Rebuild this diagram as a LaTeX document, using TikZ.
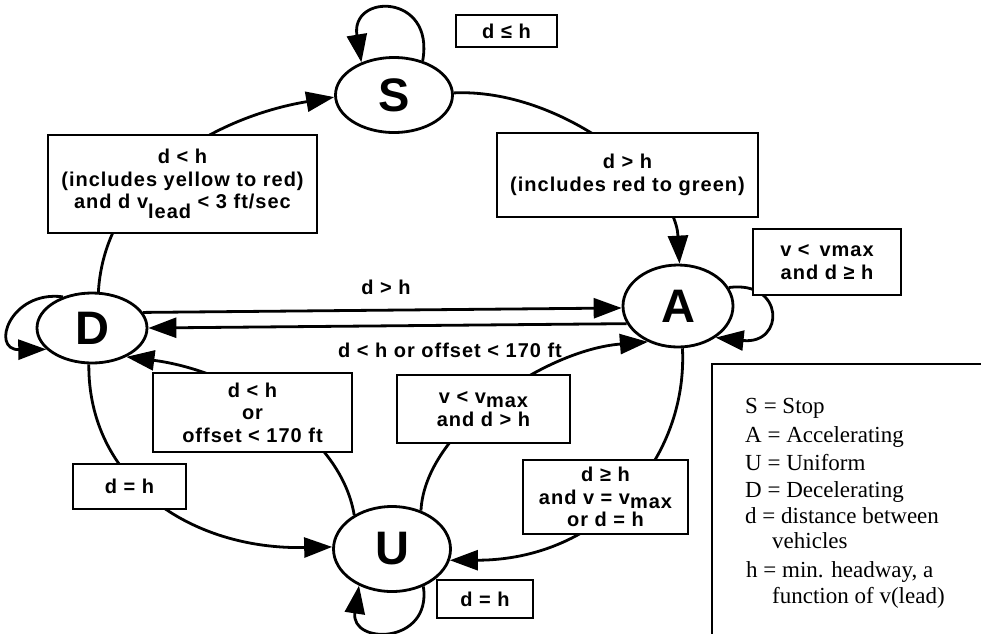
\documentclass[tikz,border=0pt]{standalone}
\usepackage{fontspec}
\setmainfont{Liberation Sans}
\newfontfamily\lblfont[LetterSpace=5]{Liberation Sans}
\newfontfamily\legendfont{Liberation Serif}
\usetikzlibrary{arrows.meta,shapes.geometric}
\begin{document}
\begin{tikzpicture}[x=1pt,y=-1pt,
  state/.style={ellipse, draw, line width=2.8pt, inner sep=0pt,
    font=\fontsize{47}{47}\selectfont\bfseries},
  conn/.style={line width=2.8pt, -{Triangle[length=28pt,width=20pt]}},
  lbl/.style={draw, fill=white, line width=2.6pt, align=center, inner sep=0pt,
    font=\lblfont\fontsize{20}{22.5}\selectfont\bfseries},
  txt/.style={inner sep=0pt, font=\lblfont\fontsize{20}{22.5}\selectfont\bfseries},
  leg/.style={anchor=base west, inner sep=0pt,
    font=\legendfont\fontsize{23}{24}\selectfont}
]
\useasboundingbox (0,0) rectangle (981,633);
\clip (0,0) rectangle (981,633);

% states
\node[state, minimum width=117pt, minimum height=75pt] (S) at (394,95) {S};
\node[state, minimum width=110pt, minimum height=82pt] (A) at (678,306) {A};
\node[state, minimum width=110pt, minimum height=70pt] (D) at (92,328) {D};
\node[state, minimum width=117pt, minimum height=85pt] (U) at (392,549) {U};

% connectors
\draw[conn] (D.80) .. controls (105,180) and (215,117) .. (S.182);
\draw[conn] (S.2) .. controls (560,88) and (675,180) .. (A.88);
\draw[conn] (S.50) .. controls (435,-7) and (350,-7) .. (S.135);
\draw[conn] (D.17) -- (A.182);
\draw[conn] (A.199) -- (D.0);
\draw[conn] (A.20) .. controls (785,280) and (785,345) .. (A.320);
\draw[conn] (D.133) .. controls (10,290) and (-10,350) .. (D.205);
\draw[conn] (U.53) .. controls (425,430) and (545,350) .. (A.230);
\draw[conn] (A.276) .. controls (688,460) and (600,560) .. (U.-11);
\draw[conn] (D.265) .. controls (88,480) and (190,550) .. (U.178);
\draw[conn] (U.138) .. controls (340,430) and (230,370) .. (D.-40);
\draw[conn] (U.-50) .. controls (432,645) and (350,645) .. (U.228);

% label boxes
\node[lbl, minimum width=101pt, minimum height=32pt] (lS) at (506.5,31) {d ≤ h};
\node[lbl, minimum width=269pt, minimum height=98pt] (lDS) at (182.5,184)
  {d < h\\(includes yellow to red)\\and d v\raisebox{-10pt}{lead} < 3 ft/sec};
\node[lbl, minimum width=261pt, minimum height=84pt] (lSA) at (627.5,175)
  {d > h\\(includes red to green)};
\node[lbl, minimum width=148pt, minimum height=66pt] (lA) at (827,262)
  {v <\, v\kern1pt max\\and d ≥ h};
\node[lbl, minimum width=199pt, minimum height=79pt] (lUD) at (252.5,412.5)
  {d < h\\or\\offset < 170 ft};
\node[lbl, minimum width=173pt, minimum height=68pt] (lUA) at (483.5,409)
  {v < v\raisebox{-4pt}{max}\\and d > h};
\node[lbl, minimum width=165pt, minimum height=74pt] (lAU) at (605.5,497)
  {d ≥ h\\and v = v\raisebox{-4pt}{max}\\or d = h};
\node[lbl, minimum width=113pt, minimum height=45pt] (lDU) at (129.5,486.5) {d = h};
\node[lbl, minimum width=96pt, minimum height=38pt] (lU) at (485,599) {d = h};
\node[txt] (lDA) at (386,287) {d > h};
\node[txt] (lAD) at (450,350) {d < h or offset < 170 ft};

% legend
\draw[line width=2.6pt] (712,650) -- (712,364) -- (995,364);
\node[leg] (g1) at (745,413) {S = Stop};
\node[leg] (g2) at (745,442) {A = Accelerating};
\node[leg] (g3) at (745,470) {U = Uniform};
\node[leg] (g4) at (745,497) {D = Decelerating};
\node[leg] (g5) at (745,523) {d = distance between};
\node[leg] (g6) at (772,548) {vehicles};
\node[leg] (g7) at (746,577) {h = min. headway, a};
\node[leg] (g8) at (772,603) {function of v(lead)};
\end{tikzpicture}
\end{document}
